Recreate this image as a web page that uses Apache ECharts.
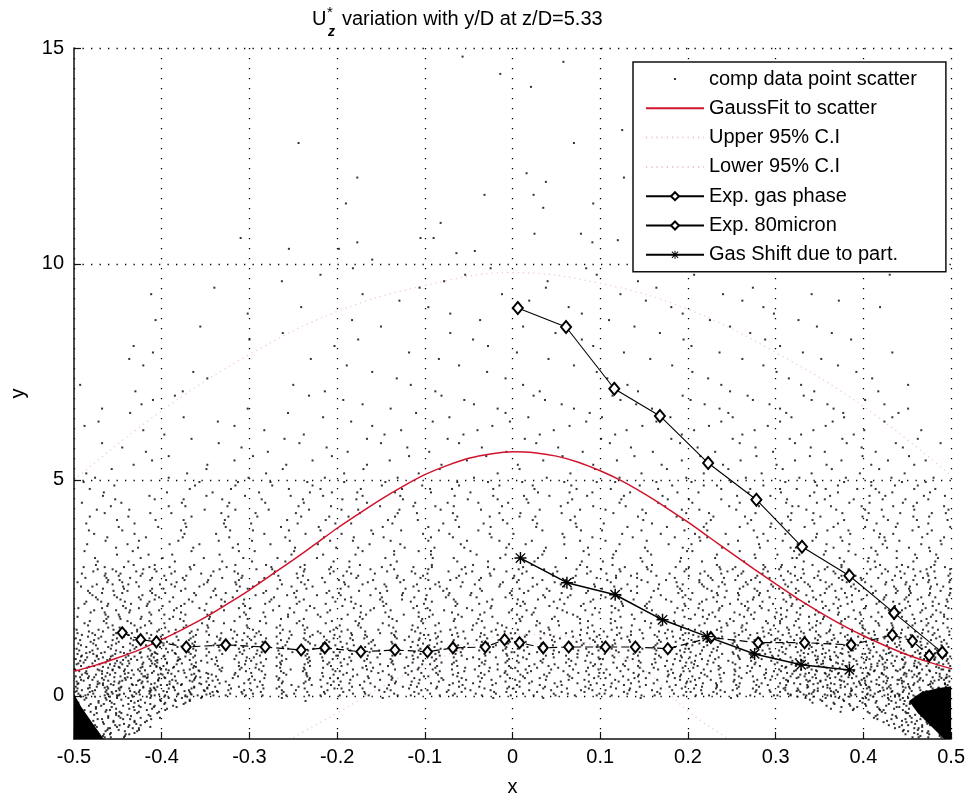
<!DOCTYPE html>
<html>
<head>
<meta charset="utf-8">
<script src="https://cdn.jsdelivr.net/npm/echarts@6/dist/echarts.min.js"></script>
<style>
html,body{margin:0;padding:0;background:#fff;}
#chart{width:968px;height:802px;}
</style>
</head>
<body>
<div id="chart"></div>
<script>
// ---- axis ticks ----
const yTickValues = [0, 5, 10, 15];

// ---- computational scatter, binned rows ----
// "y|g0 g1 ...": runs of 0.01-wide bins starting at x = -0.5.
// A digit d in a bin places a point at (binStart + d/1000, y); "." is an empty bin,
// "_" stands for ten empty bins.
const scatterBelowZero = [
  "-0.96|..8527.... _ _ _ _ _ _ _ _ .....6349..",
  "-0.89|.7.4193... _ _ _ _ _ _ _ _ ....8.2571.",
  "-0.82|..36.8.2.. _ _ _ _ _ _ _ _ ....517493",
  "-0.75|.5.91.74.. _ _ _ _ _ _ _ _ ...6.83.25",
  "-0.68|..4.7236.. _ _ _ _ _ _ _ _ ..9.41768.",
  "-0.61|.8.35.9.1. _ _ _ _ _ _ _ _ ..3.95.271",
  "-0.54|..72.64.8. _ _ _ _ _ _ _ _ .6.28.5139",
  "-0.47|.3.9.15.7. _ _ _ _ _ _ _ _ .4.7.36.82",
  "-0.40|..6.84.2.5 _ _ _ _ _ _ _ _ 7.5.914.6.",
  "-0.33|.2.71.9.3. 4......... _ _ _ _ _ _ ........8. .93.5.287.",
  "-0.26|..5.3.86.1 .7........ _ _ _ _ _ _ .......5.3 .6.81.4.92",
  "-0.19|.9.46.2.7. 3.5....... _ _ _ _ _ _ ......7.4. 2.9.63.18.",
  "-0.12|..8.1.53.9 .6.2...... ......4... _ _ _ _ _ .....3.8.6 .5.27.9.4.",
  "-0.05|.4.69.2.7. 8.3.5..... ...7...... .....2.... .......8.. ...5...... ....6..... ....9..... ...4.7.2.9 3.8.51.6.7"
];
// extra points crowding the two wall corners
const scatterCorners = [
  "-0.93|.6.3.8.... _ _ _ _ _ _ _ _ ......5.7.",
  "-0.86|4.7.2.9... _ _ _ _ _ _ _ _ .....8.3.6",
  "-0.79|.5.8.1.4.. _ _ _ _ _ _ _ _ ....6.2.9.",
  "-0.72|3.6.9.2.7. _ _ _ _ _ _ _ _ ....1.7.4.",
  "-0.65|.8.4.7.1.. _ _ _ _ _ _ _ _ ...5.9.3.8",
  "-0.58|6.2.5.9.3. _ _ _ _ _ _ _ _ ..7.4.1.6.",
  "-0.51|.4.9.3.6.8 _ _ _ _ _ _ _ _ .2.8.5.9.3",
  "-0.44|7.3.8.1.5. _ _ _ _ _ _ _ _ .6.3.9.2.7",
  "-0.37|.9.6.2.4.7 _ _ _ _ _ _ _ .......4.. 5.1.8.4.6.",
  "-0.30|2.5.8.3.9. 6......... _ _ _ _ _ _ ......3.9. .8.5.2.7.4",
  "-0.23|.7.1.6.4.2 .3........ _ _ _ _ _ _ .....8..5. 3.6.9.1.5.",
  "-0.16|5.8.3.9.1. 4.7....... _ _ _ _ _ _ ....2.6..9 .4.7.3.8.2",
  "-0.09|.2.7.4.6.8 .5.2...... _ _ _ _ _ _ ...9.1.7.. 6.9.2.5.1.",
  "-0.02|8.4.1.7.3. 3.9.6..... _ _ _ _ _ _ ..5.3.8.4. .1.6.9.3.7",
  "0.03|.6.9.2.5.7 .8.4.1.... _ _ _ _ _ _ .7.2.6.9.1 4.8.1.7.5.",
  "0.11|3.1.8.4.6. 2.6.9.3... _ _ _ _ _ _ ..4.8.3.6. .9.3.5.2.8",
  "0.19|.8.5.3.9.1 .4.7.2.... _ _ _ _ _ _ .1.6.9.4.. 7.2.8.4.6.",
  "0.27|4.7.2.6.8. 9.3.5..... _ _ _ _ _ _ ..8.3.7.2. .5.9.1.6.3",
  "0.35|.1.9.5.3.6 .6.2.8.... _ _ _ _ _ _ .4.9.1.5.. 2.7.4.8.1.",
  "0.43|7.3.6.1.4. 3.8.4..... _ _ _ _ _ _ ..6.2.8.3. .8.3.6.9.5",
  "0.51|.5.2.8.7.9 .1.7.3.... _ _ _ _ _ _ .9.4.7.1.. 6.1.9.3.7.",
  "0.59|2.9.4.6.1. 8.5.2..... _ _ _ _ _ _ ..3.6.2.9. .3.7.2.5.8",
  "0.67|.7.3.1.8.4 .4.9...... _ _ _ _ _ _ .2.8.5.... 9.4.6.1.3.",
  "0.75|5.1.7.3.9. 6.3....... _ _ _ _ _ _ ...7.4.1.. .6.2.8.4.7",
  "0.83|.3.8.6.2.5 .9.2...... _ _ _ _ _ _ ..9.6.3... 3.7.5.9.1.",
  "0.91|8.6.2.9.4. 2.7....... _ _ _ _ _ _ ....8.2.5. .1.8.4.6.9",
  "0.99|.4.1.7.5.3 .5........ _ _ _ _ _ _ ...2.7.4.. 7.9.3.5.2."
];
const scatterLow = [
  "0.01|73.5916.82 4.7.19.3.6 .5..2.8.1. 3..6..9.4. .7.2..5..8 ..4.9..1.6 .3..7.2..5 9.4..6.1.8 27.5.93.6. 8.4617.392",
  "0.05|5.2847.16. .9.3.5.8.2 4..7.1..6. .8.2..5..3 6..4.8..1. .2..7.3..9 5..1..8.4. .6.3.9..2. .4.81.7.5. 53.9.2.847",
  "0.09|18.63.947. 6..2.84..1 .3.9..6.5. 7..1.4..8. ..5.2..9.3 4.8..6..2. ..7.1.5..8 3.9.2..7.4 5.8.3.61.9 .7.25.8164",
  "0.13|9.47.2.583 .5.18..6.4 2..7.3..9. .4..8.1..6 3.7..2.5.. .9..4..8.1 6..3.9..2. .5.7.1.8.3 .16.4.9.7. 8.3.6.5.21",
  "0.17|46.9.13.72 8..4.2.9.. .6.1..3..7 5.9..7..2. .3..6.8..4 1..5..2.7. .8.4..9..3 7..2.6.4.. 9.5.8.2.6. 4.71.3.958",
  "0.21|2.68.4.9.5 .3.7..1.8. 9..4.6..2. .7..3..5.1 .4.9..2..6 8..7.1..3. .2..5..9.7 .6.3.8..1. 3..7.4.9.2 6.9.52.7.4",
  "0.25|.8.35.71.9 6.2..4.7.. .5..8..1.3 2.6..9..4. ..8.3..7.. 5..1.6..9. 4.7..2..6. 9..3.5.8.1 .2.6.9.4.7 38.1.7.4.6",
  "0.29|5.93.1.7.2 .8..3.6..4 1..7..2.9. .4.8..6..3 7..2.5..1. .9..8..4.6 .3.5..1..8 .7.2.9..4. 5.1.8.3.96 2.6.48.9.3",
  "0.33|3.7.62.84. 9..5.1.3.. .2.8..4..6 4..1..7.5. .6.9..3..2 8.2..5..7. ..1.4..6.9 3..8.2.5.. .4.7.1.8.5 9.3.6.27.8",
  "0.37|8.14.9.5.6 .2.7..4..9 6..3..8.1. .5..9.2..4 ..1.7..6.. 3..8..4.2. .7.2..5..1 8.6..3.9.4 .2.5.7.3.8 .5.91.4.62",
  "0.41|.6.2.85.37 4..8.3..1. .7.4..9..2 1..6..3.8. .9..2.5..7 .4.1..8..3 6..9.2..5. .3.7..1.8. 9.4.6.2.7. 1.8.3.5.94",
  "0.45|27.6.3.91. .5.9..2.7. 3..1..6.4. .8.5..2..9 4..7..1.6. .2.9..5..8 ..6.3..7.1 5.2..8.4.6 .7.3.9.5.2 4.6.9.1.78",
  "0.49|9.5.1.8.46 1..4.7..3. .8..2.5..6 7.3..9..1. .5.2..8..4 9..6..3.7. .1..4..8.2 .9.6.3..7. 2.8.5.1.4. 7.3.68.2.5",
  "0.53|.3.87.2.9. 7.6..1..4. 2..9..5.3. .1..7..8.6 .3.8..4..1 .7..2..5.9 4..8.6..3. .5..1.7.9. .3.8.6.2.9 5.1.7.4.3.",
  "0.57|64.2.7.5.1 .9..3.8..6 .4.6..1..8 3..9.2..5. .7..5..3.2 6.1..8..4. ..3.9..7.5 2.6..4.1.8 6.1.7.4.9. .2.9.5.6.8",
  "0.61|1.7.48.3.9 5..2..6.9. .1..7.3..5 .8.4..6..2 9..1.7..3. .5..4.9..8 7..2..6.1. .8.5.3..9. 4.9.1.8.5. 8.4.2.7.91",
  "0.65|.5.9.2.6.8 .3.6..9..1 7..5..2.4. ..9.1..7.3 .2..6..4.8 3.8..2..6. .9..5.1..4 6..7.9.3.. .1.6.8.3.7 3.7.5.1.6.",
  "0.69|8.3.6.1.74 2..7..4.8. .6.1..9..3 5..3.8..1. .4.7..2..6 .9..1.5..2 ..8.3..4.7 .1.5..8.2. 7.3.9.5.1. .6.4.8.2.9",
  "0.73|3.9.15.8.2 .7.4..1..5 8..6..3.9. .2..9.4..7 6..1..8.3. ..5.8..2.4 1.6..9..3. 7.2..4.6.9 .8.4.2.6.3 9.2.7.5.41",
  "0.77|.1.6.3.9.5 6..9.2..8. .3.5..7..1 4..8..2.6. .9.3..5..2 7..4..1.9. .5..6.3..8 4.9..1.7.. 2.5.7.9.4. 1.5.8.3.6.",
  "0.81|7.4.9.2.83 .8..5.3..6 2..7..9.4. .6.1..3..8 .1.6..9..4 5..2..7.3. ..9.4..6.1 8.3.6..2.5 .9.1.4.7.2 .8.6.9.3.5",
  "0.85|2.8.1.5.6. 4.1..7..3. .9..2.6..5 8..4..1.7. .3..8.2..6 .6.5..4..9 3..7..2.5. .6.1.9..4. 5.3.8.2.9. 7.2.4.9.16",
  "0.89|.5.3.9.7.1 .9.6..2..7 5..1..8.3. .4..6..9.2 8..3.5..1. .2..7..4.8 .6.1..9..3 2..5.8.4.7 .7.3.6.1.8 4.1.7.5.2.",
  "0.93|9.6.4.2.8. 3..8.1..5. .2.7..4..9 1..5..3.6. .7..2.9..4 6..8..1.5. .4..3.7..2 9.5..7.2.6 3.8.5.9.4. .9.3.6.8.4",
  "0.97|4.2.7.1.95 .6.3..9..2 8..4..6.1. .7..9..2.5 .2.5..8..3 .9..6..4.1 5..8..3.7. .4.9.2..8. .1.7.3.6.9 2.6.8.4.1.",
  "1.01|.8.5.3.6.2 7..1.4..9. .4..9.2..6 3..7..5.8. .6..1..4.9 2.8..3..7. ..1.5..9.6 3.7..1.5.4 8.5.2.7.3. .5.1.9.7.3",
  "1.05|6.1.8.4.7. .2.9..6..4 9..3..7.2. .5..8.1..3 4..6..2.9. .3..7..5.8 .8.2..4..1 .6.3.9..5. 4.9.6.1.8. 8.3.6.2.4.",
  "1.09|3.7.2.9.5. 5..6.1..8. .7..4..3.1 .2.9..6..5 .8..3.7..2 6..1..9.4. .3..8.2..7 1.9..5.8.3 .2.8.4.6.1 6.9.3.7.2.",
  "1.13|.4.9.6.1.8 .8.2..5..3 3..8..1.9. 6..2..7.4. .1..5..8.3 .7.4..2..6 9..6..1.5. .8.4.7..2. 7.3.1.9.5. .2.8.5.1.7",
  "1.17|8.5.3.7.2. 2..7.9..4. .6..1..5.8 .9..3.7..2 5..8..4.1. .2..6..9.7 .4.9..3..8 5.2..6.9.1 .6.9.3.8.4 4.7.1.6.9.",
  "1.21|5.2.8.4.9. .3.5..1..7 7..2..9.4. .1.6..3..8 .4..9..2.5 8..3..6.1. .7..2.5..9 .3.7.1..6. 9.4.7.2.5. .1.6.8.3.5",
  "1.25|.9.6.1.3.7 6..8.2..5. .5..3.7..1 4..9..2.6. .9.2..5..7 .5..8..3.4 2..4..9.6. 8.1..3.7.5 .3.6.9.1.7 3.8.2.5.9.",
  "1.29|7.3.4.8.1. .9.1..6..2 2..6..4.8. .8..1..7.3 6..3.9..4. .1..5..8.2 .6.3..7..5 4.8..2.6.9 5.1.8.4.2. .6.3.9.7.2",
  "1.33|2.8.9.5.6. 4..3..7.1. .9..5.2..6 .5.1..8..4 .3..6..1.9 7..2.4..8. ..4.9..6.1 .7.5..9.2. 2.8.5.7.6. 9.4.1.6.3.",
  "1.37|.6.1.7.3.9 .7.6..3..8 6..1..9.5. 3..4..6.2. .5.8..3..1 .4..7.9..6 8..1..5.3. .2.9.4..7. .7.3.1.9.4 1.5.8.2.7.",
  "1.41|9.4.5.2.8. 1..9.4..6. .3..8..2.7 .7.2..5..9 4..1..8.3. .6..3..7.9 .9.5..2..4 6.3..8.1.5 8.4.9.6.2. .3.6.4.9.8",
  "1.45|4.1.8.6.3. .5.2..8..4 8..5..3.1. .6..9.2..5 .2.7..4..8 3..6..1.5. ..2.8..4.7 1.6..3.9.2 .5.2.8.4.9 6.9.3.7.1.",
  "1.49|.7.3.9.2.5 8..4.1..3. .1..6..8.2 5..2..7.9. .8..4..6.1 .9.2..8..3 4..5..7.2. .5.8..2.6. 3.9.6.1.7. .2.5.9.4.8"
];
const scatterMid = [
  "1.53|3.8.5..2.7 .6..1..9.. 4..8..3..6 .2..7...5. ..9..4..1. 6...2..8.. .3..5..7.2 8..3..6..4 .5.9..2.7. 2.7.4.8.5.",
  "1.58|...9.2.6..4. 5..3...8.. .1..6..9.. 7...4..2.. .5..8..3.. ..1...6..9 4..7...2.. .8..1.5..3 7.2..6.9.. .4.1.9.6.3",
  "1.63|.6..4.9.1.. .8..2...7. ..5..1...3 .4..9..6.. 2...5..8.. .7..3...1. ..6..9..4. 3..5.2..8. .1.6.3..9. 8.3.6.2..7",
  "1.68|.2.7..5.8. 3...6..1.. .9...4..7. ..5..2...8 .6...9..3. 4..1...7.. .2...8..5. .9..4.7..1 5..8.1.4.6 .7.2.9.4.1",
  "1.73|.8.4..1.6.. .5..9..3.. 2...7...4. .1...8..6. ..3..5...9 .8..2..6.. 7...1..4.. ..6.2..9.5 .3.7..5.8. 4..9.6.3.8",
  "1.78|...7.3.6..9. 1..4...8.. .6..2...5. 9...3..7.. .4..1...8. ..5..7...2 .9..6...3. 2.8..5..7. 6..4.9.1.. .5.8.2.6.4",
  "1.83|4..9.2.7.. .3...5..9. .8..4...1. ..6..9...3 5...2..7.. .1..8..4.. ..3...5..6 .7.1..4..9 .2.8.5..3. 9.1.4..7.2",
  "1.88|...6.1..8.3. 7..2...6.. ..4..8...2 .3...6..9. .8..3...5. 2...9..1.. .6..4...8. 4..9.2..6. 8.5..1.7.. .3.6.9.2.5",
  "1.93|.9.5..3.6.. .2..7...4. 6...1..9.. .7..5...3. ..1..8..6. .4...2..9. 3..7...5.. .8..3.6..1 .4.9..2.6. 7..2.5.8.1",
  "1.98|..3.8.4..7. 4..9..1... .7...5..2. ..8..1...6 .2..4...9. 6...7..3.. .1..9...4. 7.5..8..2. 3..6.1.9.. .9.4.7.3.6",
  "2.03|5..2.9.4.. .7..3...8. 1...6..4.. .9..2...7. 3...8..5.. ..6..1...4 .7...3..8. .2.6..9.4. 6.8..4.1.. 2.5.8..1.7",
  "2.08|...8.6..3.1. 2...8..5.. .4..9...6. 7..3...1.. .5...6..9. ..2..8...3 6..1...7.. .9..5.2..8 .1.7.4..3. .6.3.9.4.2",
  "2.13|.2.9..5.4.. .6..1...3. 8...4..7.. .1..6...9. ..7..2...5 4...9..1.. .5..3...6. 3..8.1..7. 9.4..6.2.. 5..1.8.6.3",
  "2.18|.4.1.8..6. 9..5...2.. ..3..7...8 .6...2..4. 8..5...1.. .2..7...9. ..4..6..1. .6.3..8.5. .2.8.3..7. .8.4.1.9.6",
  "2.23|..7..3.6.2.. .1..8..4.. 5...2...9. ..9..4..1. .3...7..6. 9..4...2.. .8...5..3. 1..7.4..9. 4.6..2.8.. 3.7.2..5.9",
  "2.28|..5.9..4.7. 3...6..1.. .8..3...5. 6...1..8.. .4..9...2. ..7..3...6 .1..8...4. .9.2..5.3. 7..3.9.1.. .4.9.6.2.8",
  "2.33|..1.6..8.3.. .9..2...7. ..3..7..4. .8...4..2. 7..2...9.. .5..6...1. 3...9..7.. .4.8..1..6 .5.1..7.4. 6..2.5.8.3",
  "2.38|.8.2.5..9. 4..7...3.. .6...1..8. 2...9..5.. ..8..3...7 .3...6..4. .7..2...9. 5..3.7..2. 8.3..6.9.. .1.7.4.6.9",
  "2.43|.6..5.1.7.. .2..9..6.. 9...4...1. .5..7...3. .1...5..9. 8..2...6.. ..5..1..3. .7.4..9.1. .6.2.8..5. 4.9.3..8.2",
  "2.48|...3.7..9.2. 7...1..8.. .2..5...4. ..4..8..6. 5...3...8. .9..7...2. 4...6..1.. 2..9.6..4. 3..8.5.1.. .7.2.6.9.4",
  "2.53|8.1..6.4.. .5..3...9. 4...8..2.. .3...6..7. .7..1...5. ..3..9...4 .6..2...8. .8.5..3..7 .4.9..1.6. 9..5.3.7.1",
  "2.58|..6.4.2..8. 1..8...5.. ..7..3...9 .9..4...1. 2...7..6.. .8..5...3. ..1..7..4. 6..2.8..5. 1.7..4.9.. .5.8.1.4.7",
  "2.63|4..8.5.1.. .7...2..4. .1...9..6. 8..5...2.. .6..3...9. 5...8..1.. .2...4..7. .3.9..6.2. .8.3.7..1. 2.6.9..4.8",
  "2.68|...9.2..7.5. 6..3..8... .5..7...2. ..1..6..4. 9...2...7. .4..1...8. ..7..5...3 8..4.2..9. 5..1.6.8.. .3.7.5.9.1",
  "2.73|.3.7..4.9.. .4...9..1. 7...5..3.. .2...8..5. ..6..4...1 .3...9..6. 8..2...5.. .6.1..7.3. .9.4..2.7. 7..3.8.2.5",
  "2.78|...5.1.6..3. 8..6...2.. .3..1...7. 4...9..8.. .9...5..2. ..6..2...8 .5..4...1. 3..7.9..6. 2.8..5.1.. .6.9.4.7.2",
  "2.83|9..6.3.8.. .1..5...7. ..8..4...2 .6..3...9. 3...7..4.. .1..6...5. 7...2..9.. .4.8..1.5. .7.2..8.4. 4.1.7..3.9",
  "2.88|..2.8..1.4. 5...9..3.. .9...2..6. 1...7..5.. .7..4...3. 6...1..9.. .3..8...6. 9..5.3..1. 4..9.6.3.. .8.2.5.1.6",
  "2.93|..7.4..9.2.. .3..6...8. 6...3..1.. .8..5...4. ..2..9..7. .6...3..1. 2..4...8.. .7.1..6.4. .1.6..3.8. 5..7.2.9.4",
  "2.98|.1.5.7..6. 9..2...4.. ..5..8...3 .4...1..7. 8...6..2.. .2..9...5. ..8..3..6. 1..6.4..8. 6.2..9.5.. .4.8.1.7.3"
];
const scatterUpper = [
  "3.03|..5...8..2 ...7....4. .9....3... ..6...1... 8....5.... ..2....7.. .4...9.... ...3....6. 7...2..5.. .9..4...1.",
  "3.11|..7...2.... 5....9...3 ...1....6. 4....8.... ..7...2... .5....9..3 ...8....1. 6....4.... ..2...8..5 3...7..2..",
  "3.19|..4....6..1. ..8....3.. .2...7.... ...5....9. .3....6... 9...1....4 ..6....2.. .1...7...9 4....3..6. .8..1.5...",
  "3.27|....9...5.. 2....6.... ...8...4.. .1...5...7 ....9...2. ..4....7.. 5...8..... ..3...6..2 .7..5...1. 6...9..3.4",
  "3.35|.2....7... ...4....8. 6....1.... ..9...5..3 7....2.... ...6....1. .8...4...9 5....9.... ..1..7..3. .4.8...6..",
  "3.43|....8..3.... .6....1... ...2...9.. 4....7...1 ..5....3.. .8....6... ...1...4.. .9....2..7 3...6...9. 7..2.5...1",
  "3.51|.5....1...9 ...3...7.. .4....8... ..7...2... ...1....6. 5...9..... .2....8..4 ...6...1.. .5..8..4.. .2...6.9..",
  "3.59|...6...4.. .9....5... 3...6....2 .8....1... 4...8...5. ..2....7.. 6....3.... .4...7...1 8...2..6.. ..5.1...8.",
  "3.67|...8....2... 4....7.... ..1...5..9 ...3....7. .2...6.... ...9...1.. .7....5..3 2....9.... ..6..4...8 4...7..2.6",
  "3.75|..3...9... ..6...2... .7....4... 5...1....8 ..8....4.. 1....7.... ..5...9... 8...3...6. .1..7...5. .9.4...3..",
  "3.83|.7...5..... .2....8..4 ...5...1.. ..9...3... 6....1.... ..4...8..2 ...7....6. .2....5... 5...9..3.. 2...6.8..1",
  "3.91|.....1...6.. 8....3.... .6...9.... ...2....4. .9...5.... 7....3.... .1...6...8 ...9...4.. .3..6...2. .7..3..9.5",
  "3.99|.4....9... ..7....1.. 2....5...8 .6....3... ..1...7..4 ..8....2.. 4....9.... ..1...8..5 7...4..1.. .5.9...4..",
  "4.07|....9....3.. 5....2.... ..3...7... ...8...2.. .5....9... 3...6..... ..9....4.. 6....2...7 ..2..8..4. 8...1..6.3",
  "4.15|.8....2.... ..4...6..9 ....9...1. 3....6.... ..7...4..8 .6....1... ...3...7.. .9...5.... 4...1...9. .3..7.5...",
  "4.23|...5....7. .1....8... 7....3.... ..6...9..1 ...2....5. 9....6.... .5...2...8 ..4....7.. .8..3..6.. 6...2..8.4",
  "4.31|..6...3.... ...9...4.. .2...8...5 .4....1... 8....4.... ..1...7..6 ...8....3. 3...5..... ..5..9...2 .1..8...7.",
  "4.39|....2.....8. 7....5.... ...6...3.. ..9...7..2 .3....8... ...5...2.. 9....4.... ..7...1..9 6...3..8.. .4.7...2..",
  "4.47|9....4.... ..3....7.. .8....2... ...4....9. ..6...1..5 .8....3... ..2...6... 5....9.... .2..7...4. 7...5.1...",
  "4.55|....7....2. .5...9.... 4....1...6 .2....5... ...9...3.. 6....8.... .4....7..1 ..8...3... 3...6..9.. .2.8..4..6",
  "4.63|...3....6... ...1...5.. ..7...4... 9....2.... .4...8...3 ..2...5... 7....1.... ...6...4.. .9..2...7. 5...9..3..",
  "4.71|...4...... 6....8.... .1....9..4 ..3...6... 7....2.... ..9...5..1 ...4....8. .2....9... 6...4..1.. .8.3...6..",
  "4.79|.8......... ..2...9... ...5...1.. .7....4..6 ..1...8... .5....3... 2....6.... ..8...1..5 .4..7...3. 4...8..2..",
  "4.87|....6....... .8....4... 6....2.... ...1...7.. .9....5... 3...7..... ..5...2..8 .3....6... ..7..1..9. .6..2...8.",
  "4.95|.1........ ....3...7. ..4...6... 8....5.... ...7...2.. .1...9...6 .7....4... 4...9..... .1..5..8.. 9...4..1.."
];
// sparser upper cloud: "y|x x x ..." rows, x in thousandths
const scatterHigh = [
  "5.05|-476 -392 -301 -214 -131 -44 39 122 198 266 327 380 432 480",
  "5.35|-432 -348 -258 -166 -81 6 92 170 240 301 358 409 458",
  "5.15|-486 -371 -281 -192 -107 -17 66 147 218 284 341 396 447",
  "5.45|-411 -317 -228 -140 -52 35 119 193 260 322 375 428 471",
  "5.25|-457 -349 -262 -170 -83 8 94 176 246 308 364 418",
  "5.55|-392 -296 -206 -118 -30 57 139 214 278 339 399 452",
  "5.85|-468 -335 -243 -150 -61 27 111 191 259 322 381 437 488",
  "5.65|-418 -279 -188 -95 -7 80 160 231 297 356 414",
  "5.95|-366 -260 -166 -74 14 101 181 251 316 376 462",
  "5.75|-445 -309 -212 -120 -35 52 135 211 277 340 398 445",
  "6.05|-397 -238 -146 -56 31 117 193 262 329 389",
  "6.35|-472 -336 -184 -91 -3 84 164 238 305 365 424",
  "6.15|-421 -283 -127 -40 47 130 207 276 343 401 466",
  "6.45|-375 -216 -72 18 102 180 251 318 378 433",
  "6.25|-488 -317 -160 -23 65 148 224 291 357",
  "6.55|-436 -256 -110 -8 88 170 246 312 377 440",
  "6.85|-410 -193 -55 37 123 203 274 341 402",
  "6.65|-468 -302 -139 -17 70 159 236 305 366 451",
  "6.95|-385 -232 -81 24 114 194 268 332",
  "6.75|-423 -171 -44 56 141 219 293 359 424",
  "7.05|-430 -376 -214 -88 31 143 248 344 417",
  "7.50|-364 -160 -29 96 205 301 392",
  "7.20|-493 -250 -116 12 131 238 329 451",
  "7.65|-421 -189 -61 70 182 286 371",
  "7.35|-348 -132 -8 108 223 315 410",
  "7.80|-437 -230 -84 41 157 262 352",
  "8.25|-300 -176 -45 79 195 288 386",
  "7.95|-410 -118 5 127 236 331 433",
  "8.40|-262 -71 49 168 271 364",
  "8.10|-432 -203 -28 92 204 305",
  "8.55|-356 -150 12 139 248 347",
  "9.00|-241 -96 64 181 286 419",
  "8.70|-407 -183 -37 110 225 326",
  "9.15|-129 19 152 262 372",
  "8.85|-302 -71 79 194 298",
  "9.30|-412 -171 -12 123 240 341",
  "9.75|-219 -54 96 207 430",
  "9.45|-340 -106 38 164 274",
  "9.90|-182 -25 84 213 317",
  "9.60|-263 -78 40 143"
];
// isolated points above y = 10
const scatterTop = [
  [0.058, 14.68], [-0.014, 14.4], [0.021, 14.1], [-0.057, 14.8], [0.125, 13.1],
  [0.070, 12.8], [-0.244, 12.8], [0.038, 11.9], [0.127, 12.0], [0.016, 12.1],
  [0.024, 11.6], [-0.177, 12.0], [-0.19, 11.4], [-0.032, 11.6], [0.092, 11.4],
  [-0.082, 10.95], [0.035, 11.3], [0.025, 10.7], [0.078, 10.7], [0.091, 10.5],
  [0.12, 10.55], [-0.105, 10.6], [-0.09, 10.6], [-0.177, 10.5], [-0.198, 10.35],
  [-0.255, 10.35], [-0.064, 10.25], [-0.043, 10.3], [-0.16, 10.1], [-0.31, 10.6]
];
// saturated cores of the point clusters at both wall corners
const cornerLeft = [[-0.5, -1], [-0.5, 0.05], [-0.492, -0.25], [-0.48, -0.6], [-0.466, -1]];
const cornerRight = [[0.5, -1], [0.492, -1], [0.477, -0.7], [0.462, -0.4], [0.452, -0.12], [0.466, 0.08], [0.486, 0.18], [0.5, 0.22]];

// ---- Gaussian fit and confidence bounds ----
const gaussX = [-0.5,-0.475,-0.45,-0.425,-0.4,-0.375,-0.35,-0.325,-0.3,-0.275,-0.25,-0.225,-0.2,-0.175,-0.15,-0.125,-0.1,-0.075,-0.05,-0.025,0,0.025,0.05,0.075,0.1,0.125,0.15,0.175,0.2,0.225,0.25,0.275,0.3,0.325,0.35,0.375,0.4,0.425,0.45,0.475,0.5];
const gaussY = [0.57,0.71,0.88,1.07,1.30,1.55,1.82,2.13,2.45,2.80,3.15,3.51,3.88,4.22,4.55,4.85,5.12,5.33,5.50,5.60,5.65,5.63,5.55,5.41,5.21,4.97,4.68,4.36,4.02,3.66,3.30,2.94,2.59,2.25,1.94,1.65,1.39,1.16,0.95,0.78,0.63];
const upperX = [-0.5,-0.4,-0.3,-0.2,-0.1,0,0.1,0.2,0.3,0.4,0.5];
const upperY = [5.0,6.6,7.9,8.9,9.5,9.8,9.55,8.95,7.95,6.7,5.1];
const lowerX = [-0.26,-0.24,-0.2,-0.15,-0.1,-0.05,0,0.05,0.1,0.15,0.2,0.25,0.27];
const lowerY = [-1.1,-0.85,-0.4,0.2,0.7,1.15,1.42,1.4,1.1,0.6,-0.35,-1.05,-1.3];

// ---- experiments ----
const gasPhaseX = [-0.445,-0.424,-0.406,-0.372,-0.327,-0.282,-0.241,-0.214,-0.173,-0.134,-0.097,-0.068,-0.031,-0.009,0.008,0.035,0.064,0.106,0.140,0.177,0.226,0.280,0.333,0.386,0.433,0.456,0.475];
const gasPhaseY = [1.46,1.30,1.25,1.13,1.18,1.13,1.06,1.11,1.02,1.06,1.02,1.11,1.13,1.30,1.23,1.11,1.13,1.13,1.13,1.09,1.35,1.23,1.23,1.18,1.41,1.27,0.93];
const exp80X = [0.006,0.061,0.116,0.168,0.223,0.278,0.330,0.384,0.435,0.490];
const exp80Y = [8.98,8.54,7.11,6.48,5.39,4.54,3.45,2.78,1.92,1.00];
const gasShiftX = [0.009,0.062,0.117,0.171,0.222,0.276,0.329,0.384];
const gasShiftY = [3.19,2.62,2.34,1.76,1.37,0.97,0.72,0.60];

const names = ['comp data point scatter','GaussFit to scatter','Upper 95% C.I','Lower 95% C.I','Exp. gas phase','Exp. 80micron','Gas Shift due to part.'];

function parseBinRows(rows) {
  const pts = [];
  rows.forEach(function (r) {
    const parts = r.split('|');
    const y = parseFloat(parts[0]);
    let bin = 0;
    parts[1].trim().split(/\s+/).forEach(function (tok) {
      if (tok === '_') { bin += 10; return; }
      for (let i = 0; i < tok.length; i++) {
        const ch = tok.charAt(i);
        if (ch >= '0' && ch <= '9') {
          const x = (bin * 10 + Number(ch) - 500) / 1000;
          if (x <= 0.5) pts.push([x, y]);
        }
        bin++;
      }
    });
  });
  return pts;
}
function parseRows(rows) {
  const pts = [];
  rows.forEach(function (r) {
    const parts = r.split('|');
    const y = parseFloat(parts[0]);
    parts[1].trim().split(/\s+/).forEach(function (x) { pts.push([parseInt(x, 10) / 1000, y]); });
  });
  return pts;
}
function zip(xs, ys) { return xs.map(function (x, i) { return [x, ys[i]]; }); }

const scatterData = [].concat(
  parseBinRows(scatterBelowZero), parseBinRows(scatterCorners), parseBinRows(scatterLow),
  parseBinRows(scatterMid), parseBinRows(scatterUpper), parseRows(scatterHigh), scatterTop
);

const FONT = '"Liberation Sans", Arial, Helvetica, sans-serif';
const asterisk = 'path://M4.4,0H5.6V10H4.4Z M0,4.4H10V5.6H0Z M1.5,0.7L9.3,8.5L8.5,9.3L0.7,1.5Z M8.5,0.7L9.3,1.5L1.5,9.3L0.7,8.5Z';
const dotIcon = 'path://M0,0M10,10M4,4h2v2h-2z';
const ciColor = 'rgba(214,70,95,0.32)';
const hidden = { color: 'rgba(0,0,0,0)', borderWidth: 0 };

function polygonSeries(points) {
  return {
    type: 'custom', silent: true, z: 1,
    data: points,
    renderItem: function (params, api) {
      if (params.dataIndex !== 0) return null;
      return { type: 'polygon', shape: { points: points.map(function (p) { return api.coord(p); }) }, style: { fill: '#000' } };
    }
  };
}

const chart = echarts.init(document.getElementById('chart'), null, { renderer: 'canvas' });
chart.setOption({
  backgroundColor: '#fff',
  animation: false,
  textStyle: { fontFamily: FONT },
  grid: { left: 72, right: 16, top: 48, bottom: 62, containLabel: false },
  graphic: [
    { type: 'text', x: 312, y: 19, style: { text: 'U', font: '20px ' + FONT, fill: '#000', textVerticalAlign: 'middle', verticalAlign: 'middle' } },
    { type: 'text', x: 327, y: 13, style: { text: '*', font: '15px ' + FONT, fill: '#000', textVerticalAlign: 'middle', verticalAlign: 'middle' } },
    { type: 'text', x: 328, y: 32, style: { text: 'z', font: 'italic bold 14px ' + FONT, fill: '#000', textVerticalAlign: 'middle', verticalAlign: 'middle' } },
    { type: 'text', x: 342, y: 19, style: { text: 'variation with y/D at z/D=5.33', font: '20px ' + FONT, fill: '#000', textVerticalAlign: 'middle', verticalAlign: 'middle' } }
  ],
  legend: {
    orient: 'vertical', left: 633, top: 62,
    padding: [6, 29, 6, 12],
    itemWidth: 58, itemHeight: 10, itemGap: 7.3,
    backgroundColor: '#fff', borderColor: '#111', borderWidth: 1.5, borderRadius: 0,
    textStyle: { fontFamily: FONT, fontSize: 20, color: '#000', lineHeight: 22 },
    selectedMode: false,
    data: [
      { name: names[0], icon: dotIcon },
      { name: names[1], itemStyle: hidden },
      { name: names[2], itemStyle: hidden },
      { name: names[3], itemStyle: hidden },
      { name: names[4], lineStyle: { type: 'solid' } },
      { name: names[5] },
      { name: names[6] }
    ]
  },
  xAxis: {
    type: 'value', min: -0.5, max: 0.5, interval: 0.1,
    name: 'x', nameLocation: 'middle', nameGap: 38,
    nameTextStyle: { fontFamily: FONT, fontSize: 20, color: '#000' },
    axisLine: { show: true, onZero: false, lineStyle: { color: '#111', width: 1.5 } },
    axisTick: { show: true, inside: true, length: 7, lineStyle: { color: '#111', width: 1.2 } },
    axisLabel: {
      fontFamily: FONT, fontSize: 20, color: '#000', margin: 8,
      formatter: function (v) { const r = Math.round(v * 10) / 10; return r === 0 ? '0' : String(r); }
    },
    splitLine: { show: true, lineStyle: { color: '#000', width: 1.3, type: [1.3, 8.7] } }
  },
  yAxis: {
    type: 'value', min: -1, max: 15,
    name: 'y', nameLocation: 'middle', nameGap: 46,
    nameTextStyle: { fontFamily: FONT, fontSize: 20, color: '#000' },
    axisLine: { show: true, onZero: false, lineStyle: { color: '#111', width: 1.5 } },
    axisTick: { show: true, inside: true, length: 7, customValues: yTickValues, lineStyle: { color: '#111', width: 1.2 } },
    axisLabel: { fontFamily: FONT, fontSize: 20, color: '#000', margin: 10, customValues: yTickValues },
    splitLine: { show: true, lineStyle: { color: '#000', width: 1.3, type: [1.3, 7.2] } }
  },
  series: [
    {
      name: names[0], type: 'scatter', data: scatterData, symbol: 'rect', symbolSize: 2,
      itemStyle: { color: '#000' }, silent: true, z: 1, large: true, largeThreshold: 500
    },
    polygonSeries(cornerLeft),
    polygonSeries(cornerRight),
    {
      name: names[1], type: 'line', data: zip(gaussX, gaussY), smooth: 0.3, symbol: 'circle', showSymbol: false,
      lineStyle: { color: '#d0142c', width: 1.5 }, itemStyle: { color: '#d0142c' }, z: 3
    },
    {
      name: names[2], type: 'line', data: zip(upperX, upperY), smooth: 0.4, symbol: 'circle', showSymbol: false,
      lineStyle: { color: ciColor, width: 1.2, type: [1.2, 4] }, itemStyle: { color: ciColor }, z: 2
    },
    {
      name: names[3], type: 'line', data: zip(lowerX, lowerY), smooth: 0.4, symbol: 'circle', showSymbol: false,
      lineStyle: { color: ciColor, width: 1.2, type: [1.2, 4] }, itemStyle: { color: ciColor }, z: 2
    },
    {
      name: names[4], type: 'line', data: zip(gasPhaseX, gasPhaseY), symbol: 'emptyDiamond', symbolSize: [9, 11],
      lineStyle: { color: '#000', width: 1.2, type: [8, 4] }, itemStyle: { color: '#000', borderWidth: 1.2 }, z: 4
    },
    {
      name: names[5], type: 'line', data: zip(exp80X, exp80Y), symbol: 'emptyDiamond', symbolSize: [10, 12],
      lineStyle: { color: '#000', width: 1.1 }, itemStyle: { color: '#000', borderWidth: 1.2 }, z: 4
    },
    {
      name: names[6], type: 'line', data: zip(gasShiftX, gasShiftY), symbol: asterisk, symbolSize: 12,
      lineStyle: { color: '#000', width: 1.5 }, itemStyle: { color: '#000' }, z: 4
    }
  ]
});
</script>
</body>
</html>
